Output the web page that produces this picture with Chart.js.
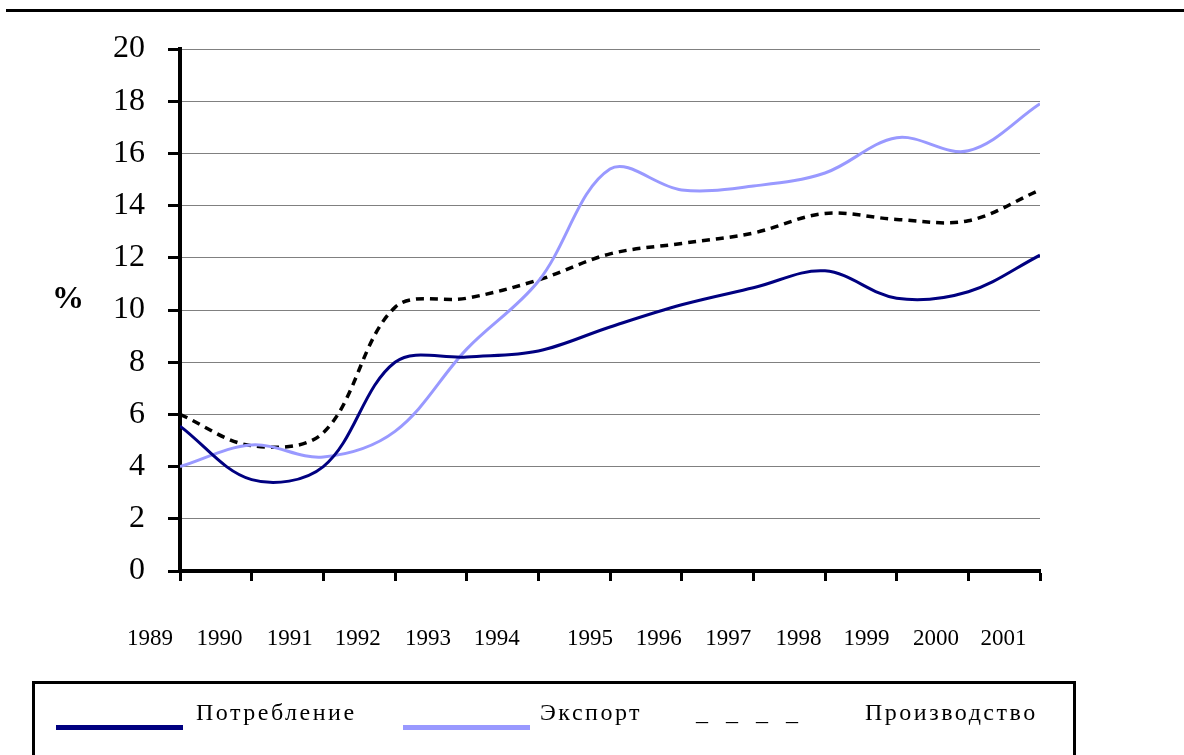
<!DOCTYPE html>
<html>
<head>
<meta charset="utf-8">
<script src="https://cdn.jsdelivr.net/npm/chart.js@4"></script>
<style>
  body { margin: 0; background: #fff; }
  #wrap { position: absolute; left: 0; top: 0; width: 1184px; height: 755px; overflow: hidden; }
  #chartBox { position: absolute; left: 0; top: 0; width: 1184px; height: 755px; }
  .topline { position: absolute; left: 6px; top: 9px; width: 1178px; height: 3px; background: #000; }
  .pct { position: absolute; left: 52px; top: 281px; font: bold 32px "Liberation Serif", serif; line-height: 32px; }
  .legend { position: absolute; left: 32px; top: 681px; width: 1038px; height: 100px; border: 3px solid #000; }
  .swatch { position: absolute; height: 5px; }
  .txt { position: absolute; font: 24px "Liberation Serif", serif; line-height: 24px; letter-spacing: 2.5px; white-space: nowrap; }
</style>
</head>
<body>
<div id="wrap">
  <div class="topline"></div>
  <div id="chartBox"><canvas id="myChart"></canvas></div>
  <div class="pct">%</div>
  <div class="legend"></div>
  <div class="swatch" style="left:56px; top:725px; width:127px; background:#000080;"></div>
  <div class="txt" style="left:196px; top:700px;">Потребление</div>
  <div class="swatch" style="left:403px; top:725px; width:127px; background:#9999ff;"></div>
  <div class="txt" style="left:540px; top:700px;">Экспорт</div>
  <div class="txt" style="left:696px; top:700px; letter-spacing:6px;">_ _ _ _</div>
  <div class="txt" style="left:865px; top:700px;">Производство</div>
</div>
<script>
const years = [1989, 1990, 1991, 1992, 1993, 1994, 1995, 1996, 1997, 1998, 1999, 2000, 2001];
const potreblenie = [5.55, 3.5, 4.0, 8.0, 8.2, 8.43, 9.35, 10.2, 10.85, 11.5, 10.45, 10.7, 12.1];
const eksport = [4.0, 4.83, 4.37, 5.35, 8.5, 11.1, 15.4, 14.6, 14.75, 15.25, 16.6, 16.1, 17.9];
const proizvodstvo = [6.0, 4.8, 5.3, 10.1, 10.45, 11.15, 12.15, 12.55, 12.95, 13.7, 13.47, 13.42, 14.6];
const yTicks = [0, 2, 4, 6, 8, 10, 12, 14, 16, 18, 20];

// year captions sit a bit left of the ticks in the original
const yearLabelAt = [1988.58, 1989.55, 1990.53, 1991.48, 1992.46, 1993.42, 1994.72, 1995.68, 1996.65, 1997.63, 1998.58, 1999.55, 2000.49];

const toPoints = values => years.map((yr, i) => ({ x: yr, y: values[i] }));

const serif = '"Liberation Serif", "Times New Roman", serif';

const yearLabels = {
  id: 'yearLabels',
  afterDraw: chart => {
    const { ctx, scales: { x } } = chart;
    ctx.save();
    ctx.font = '23px ' + serif;
    ctx.fillStyle = '#000';
    ctx.textAlign = 'center';
    ctx.textBaseline = 'alphabetic';
    years.forEach((yr, i) => {
      ctx.fillText(String(yr), x.getPixelForValue(yearLabelAt[i]), 645);
    });
    ctx.restore();
  },
};

const data = {
  datasets: [
    {
      label: 'Потребление',
      data: toPoints(potreblenie),
      borderColor: '#000080',
      borderWidth: 3,
    },
    {
      label: 'Экспорт',
      data: toPoints(eksport),
      borderColor: '#9999ff',
      borderWidth: 3,
    },
    {
      label: 'Производство',
      data: toPoints(proizvodstvo),
      borderColor: '#000',
      borderWidth: 3.5,
      borderDash: [8, 6],
    },
  ],
};

const config = {
  type: 'line',
  data: data,
  plugins: [yearLabels],
  options: {
    responsive: true,
    maintainAspectRatio: false,
    animation: false,
    layout: { padding: { left: 90, right: 144, top: 49, bottom: 174 } },
    elements: {
      point: { radius: 0 },
      line: { tension: 0.35, fill: false },
    },
    plugins: {
      legend: { display: false },
      tooltip: { enabled: false },
    },
    scales: {
      x: {
        type: 'linear',
        min: years[0],
        max: years[years.length - 1],
        ticks: { display: false, stepSize: 1 },
        grid: { drawOnChartArea: false, tickLength: 10, tickWidth: 3, tickColor: '#000' },
        border: { color: '#000', width: 4 },
      },
      y: {
        min: 0,
        max: 20,
        afterBuildTicks: axis => {
          axis.ticks = yTicks.map(v => ({ value: v }));
        },
        ticks: {
          padding: 23,
          color: '#000',
          font: { family: serif, size: 32 },
        },
        grid: { color: '#808080', lineWidth: 1, tickLength: 12, tickWidth: 3, tickColor: '#000' },
        border: { color: '#000', width: 4 },
      },
    },
  },
};

new Chart(document.getElementById('myChart'), config);
</script>
</body>
</html>
